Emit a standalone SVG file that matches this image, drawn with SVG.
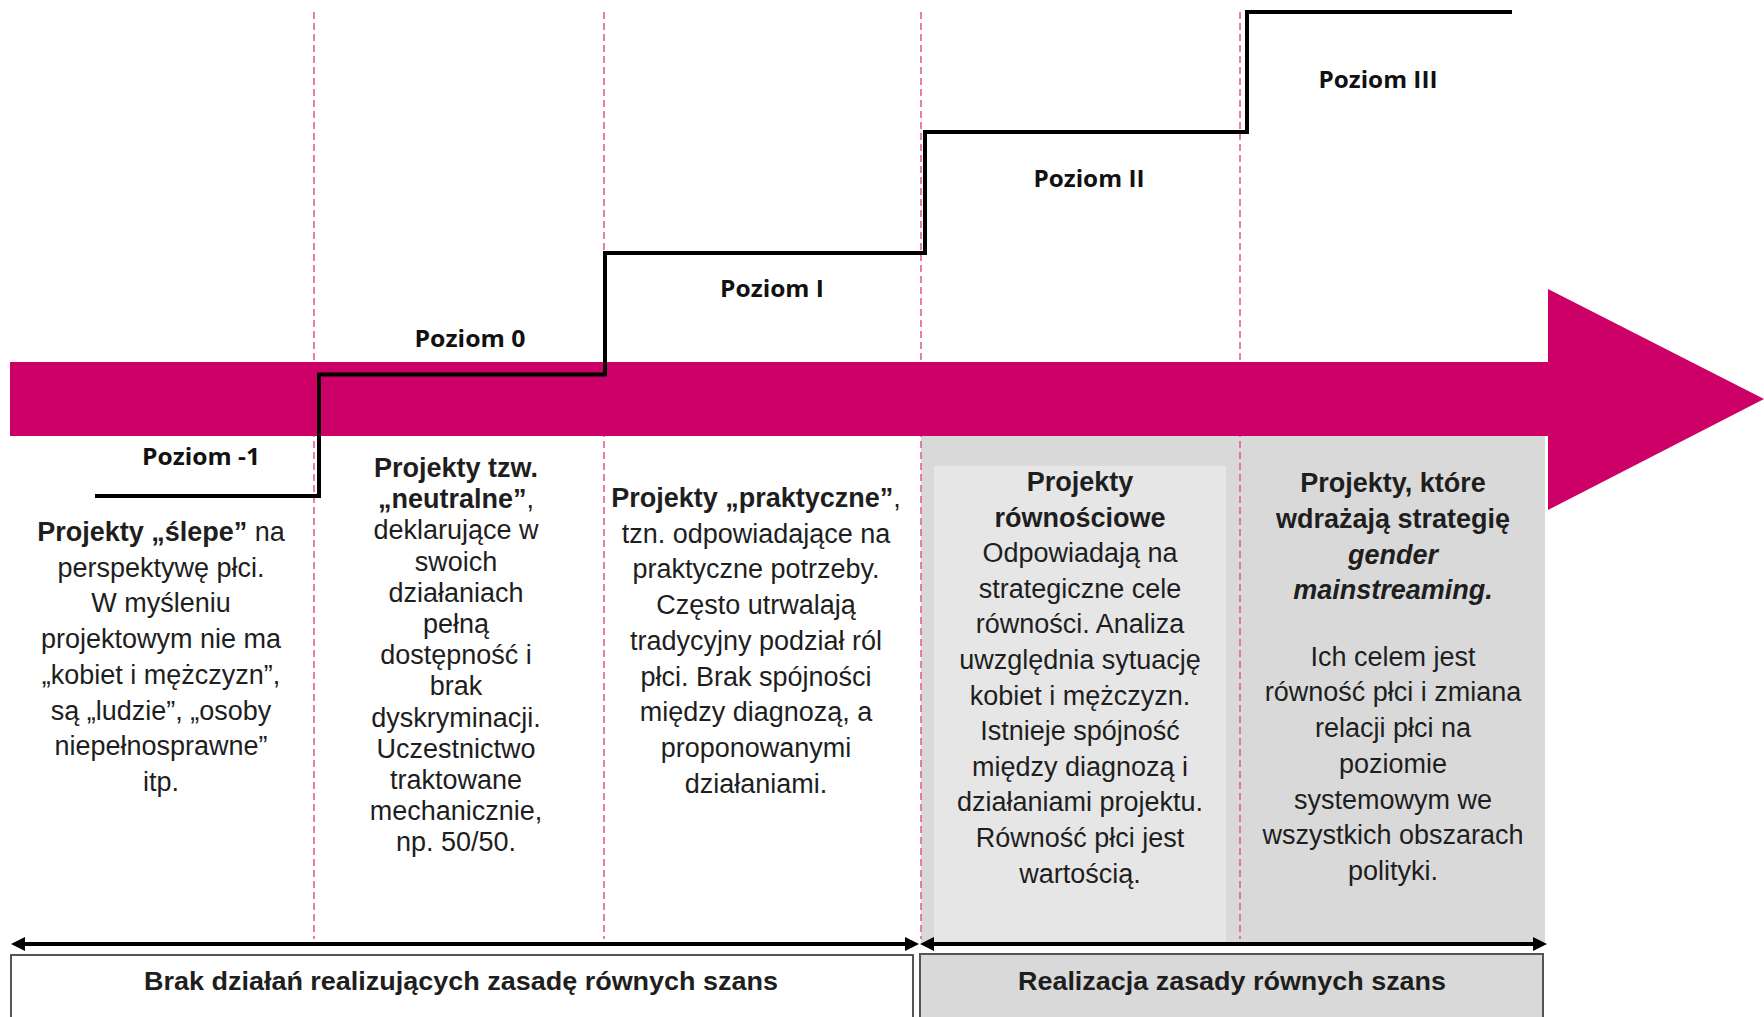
<svg xmlns="http://www.w3.org/2000/svg" width="1764" height="1017" viewBox="0 0 1764 1017">
<style>
.body{font-family:"Liberation Sans",Arial,sans-serif;font-size:27px;fill:#1e1e1e;text-anchor:middle}
.b{font-weight:bold}
.i{font-style:italic}
.lvl{font-family:"Open Sans","Liberation Sans",sans-serif;font-weight:bold;font-size:24px;fill:#111;text-anchor:middle}
.foot{font-family:"Liberation Sans",Arial,sans-serif;font-weight:bold;font-size:25px;fill:#1e1e1e;text-anchor:middle}
.dash{stroke:#e0609a;stroke-width:1.6;stroke-dasharray:7 4;fill:none}
.conn{stroke:#000;stroke-width:4;fill:none}
.box{stroke:#555;stroke-width:2}
</style>
<defs>
<marker id="ah" markerUnits="userSpaceOnUse" markerWidth="14" markerHeight="14" viewBox="0 0 14 14" refX="5" refY="7" orient="auto-start-reverse">
<path d="M0,0 L14,7 L0,14 z" fill="#000"/>
</marker>
</defs>
<rect width="1764" height="1017" fill="#fff"/>
<g id="bg-realizacja">
<rect x="921" y="436" width="624" height="508" fill="#d9d9d9"/>
<rect x="934" y="466" width="292" height="476" fill="#e6e6e6"/>
</g>
<g id="dividers">
<line class="dash" x1="314" y1="12" x2="314" y2="939"/>
<line class="dash" x1="604" y1="12" x2="604" y2="939"/>
<line class="dash" x1="921" y1="12" x2="921" y2="939"/>
<line class="dash" x1="1240" y1="12" x2="1240" y2="939"/>
</g>
<g id="main-arrow">
<polygon points="10,362 1548,362 1548,289 1764,399 1548,510 1548,436 10,436" fill="#cc0066"/>
</g>
<g id="connectors">
<path class="conn" d="M95 496 H319 V374.5 H605 V253 H925 V132 H1247 V12 H1512"/>
<line class="conn" x1="20" y1="944" x2="910" y2="944" marker-start="url(#ah)" marker-end="url(#ah)"/>
<line class="conn" x1="929" y1="944" x2="1538" y2="944" marker-start="url(#ah)" marker-end="url(#ah)"/>
</g>
<g id="level-labels">
<text class="lvl" x="201" y="465" textLength="118" lengthAdjust="spacingAndGlyphs">Poziom -1</text>
<text class="lvl" x="470" y="347" textLength="111" lengthAdjust="spacingAndGlyphs">Poziom 0</text>
<text class="lvl" x="772" y="297" textLength="104" lengthAdjust="spacingAndGlyphs">Poziom I</text>
<text class="lvl" x="1089" y="187" textLength="111" lengthAdjust="spacingAndGlyphs">Poziom II</text>
<text class="lvl" x="1378" y="88" textLength="119" lengthAdjust="spacingAndGlyphs">Poziom III</text>
</g>
<g id="col-1">
<text class="body" x="161" y="541"><tspan class="b">Projekty „ślepe”</tspan> na</text>
<text class="body" x="161" y="576.7">perspektywę płci.</text>
<text class="body" x="161" y="612.4">W myśleniu</text>
<text class="body" x="161" y="648.1">projektowym nie ma</text>
<text class="body" x="161" y="683.8">„kobiet i mężczyzn”,</text>
<text class="body" x="161" y="719.5">są „ludzie”, „osoby</text>
<text class="body" x="161" y="755.2">niepełnosprawne”</text>
<text class="body" x="161" y="790.9">itp.</text>
</g>
<g id="col-2">
<text class="body b" x="456" y="477">Projekty tzw.</text>
<text class="body" x="456" y="508.2"><tspan class="b">„neutralne”</tspan>,</text>
<text class="body" x="456" y="539.4">deklarujące w</text>
<text class="body" x="456" y="570.6">swoich</text>
<text class="body" x="456" y="601.8">działaniach</text>
<text class="body" x="456" y="633">pełną</text>
<text class="body" x="456" y="664.2">dostępność i</text>
<text class="body" x="456" y="695.4">brak</text>
<text class="body" x="456" y="726.6">dyskryminacji.</text>
<text class="body" x="456" y="757.8">Uczestnictwo</text>
<text class="body" x="456" y="789">traktowane</text>
<text class="body" x="456" y="820.2">mechanicznie,</text>
<text class="body" x="456" y="851.4">np. 50/50.</text>
</g>
<g id="col-3">
<text class="body" x="756" y="507"><tspan class="b">Projekty „praktyczne”</tspan>,</text>
<text class="body" x="756" y="542.7">tzn. odpowiadające na</text>
<text class="body" x="756" y="578.4">praktyczne potrzeby.</text>
<text class="body" x="756" y="614.1">Często utrwalają</text>
<text class="body" x="756" y="649.8">tradycyjny podział ról</text>
<text class="body" x="756" y="685.5">płci. Brak spójności</text>
<text class="body" x="756" y="721.2">między diagnozą, a</text>
<text class="body" x="756" y="756.9">proponowanymi</text>
<text class="body" x="756" y="792.6">działaniami.</text>
</g>
<g id="col-4">
<text class="body b" x="1080" y="491">Projekty</text>
<text class="body b" x="1080" y="526.6">równościowe</text>
<text class="body" x="1080" y="562.2">Odpowiadają na</text>
<text class="body" x="1080" y="597.8">strategiczne cele</text>
<text class="body" x="1080" y="633.4">równości. Analiza</text>
<text class="body" x="1080" y="669">uwzględnia sytuację</text>
<text class="body" x="1080" y="704.6">kobiet i mężczyzn.</text>
<text class="body" x="1080" y="740.2">Istnieje spójność</text>
<text class="body" x="1080" y="775.8">między diagnozą i</text>
<text class="body" x="1080" y="811.4">działaniami projektu.</text>
<text class="body" x="1080" y="847">Równość płci jest</text>
<text class="body" x="1080" y="882.6">wartością.</text>
</g>
<g id="col-5">
<text class="body b" x="1393" y="492">Projekty, które</text>
<text class="body b" x="1393" y="527.8">wdrażają strategię</text>
<text class="body b i" x="1393" y="563.6">gender</text>
<text class="body b i" x="1393" y="599.4">mainstreaming.</text>
<text class="body" x="1393" y="665.5">Ich celem jest</text>
<text class="body" x="1393" y="701.2">równość płci i zmiana</text>
<text class="body" x="1393" y="737">relacji płci na</text>
<text class="body" x="1393" y="772.8">poziomie</text>
<text class="body" x="1393" y="808.6">systemowym we</text>
<text class="body" x="1393" y="844.4">wszystkich obszarach</text>
<text class="body" x="1393" y="880">polityki.</text>
</g>
<g id="box-brak">
<rect class="box" x="11" y="955" width="902" height="80" fill="#fff"/>
<text class="foot" x="461" y="990" textLength="634" lengthAdjust="spacingAndGlyphs">Brak działań realizujących zasadę równych szans</text>
</g>
<g id="box-realizacja">
<rect class="box" x="920" y="954" width="623" height="80" fill="#d9d9d9"/>
<text class="foot" x="1232" y="990" textLength="428" lengthAdjust="spacingAndGlyphs">Realizacja zasady równych szans</text>
</g>
</svg>
